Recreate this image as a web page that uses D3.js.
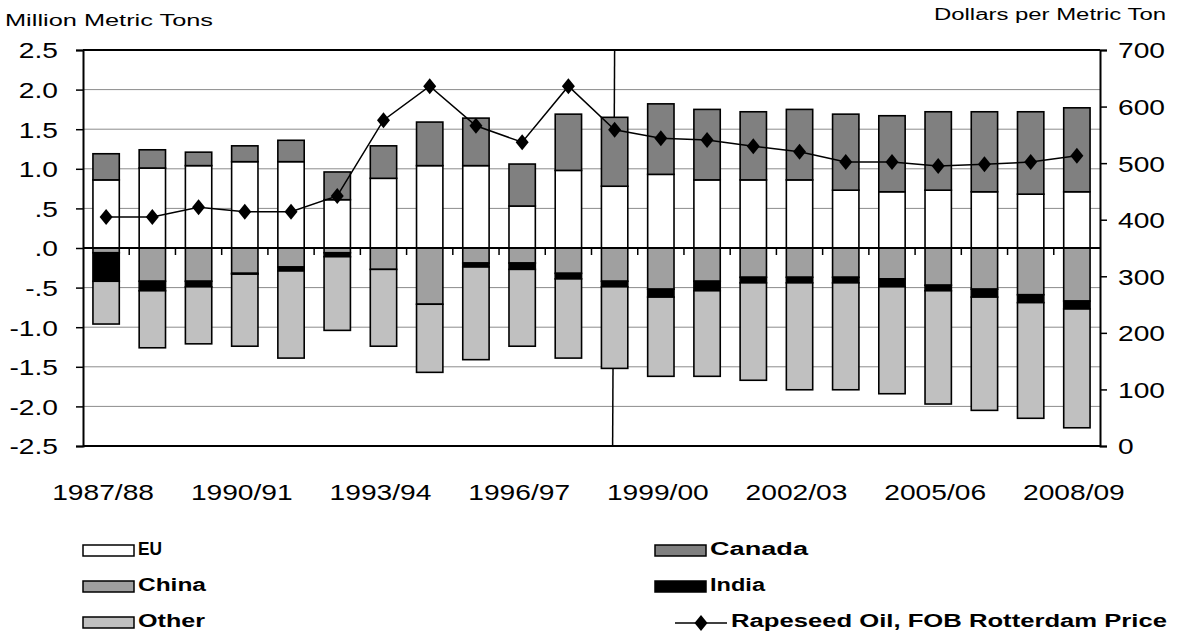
<!DOCTYPE html>
<html><head><meta charset="utf-8">
<script src="https://cdn.jsdelivr.net/npm/d3@7"></script>
<style>body{margin:0;background:#fff}svg{display:block}text{font-family:Arial,"Liberation Sans",sans-serif}</style>
</head><body>
<svg id="c" width="1179" height="633"></svg>
<script>
const years = ["1987/88","1988/89","1989/90","1990/91","1991/92","1992/93","1993/94","1994/95","1995/96","1996/97","1997/98","1998/99","1999/00","2000/01","2001/02","2002/03","2003/04","2004/05","2005/06","2006/07","2007/08","2008/09"];
const eu     = [0.86,1.01,1.04,1.09,1.09,0.61,0.88,1.04,1.04,0.53,0.98,0.78,0.93,0.86,0.86,0.86,0.73,0.71,0.73,0.71,0.68,0.71];
const canada = [0.33,0.23,0.17,0.20,0.27,0.35,0.41,0.55,0.60,0.53,0.71,0.87,0.89,0.89,0.86,0.89,0.96,0.96,0.99,1.01,1.04,1.06];
const china  = [-0.06,-0.42,-0.42,-0.32,-0.24,-0.06,-0.27,-0.71,-0.19,-0.19,-0.32,-0.42,-0.52,-0.42,-0.37,-0.37,-0.37,-0.39,-0.47,-0.52,-0.59,-0.67];
const india  = [-0.36,-0.12,-0.07,-0.01,-0.05,-0.05,0,0,-0.05,-0.08,-0.07,-0.07,-0.10,-0.12,-0.07,-0.07,-0.07,-0.10,-0.07,-0.10,-0.10,-0.10];
const other  = [-0.54,-0.72,-0.72,-0.91,-1.10,-0.93,-0.97,-0.86,-1.17,-0.97,-1.00,-1.03,-1.00,-1.08,-1.23,-1.35,-1.35,-1.35,-1.43,-1.43,-1.46,-1.50];
const price  = [405,405,422,414,414,442,576,636,566,537,636,559,544,541,530,520,502,502,495,498,502,513];
const leftTicks = [2.5,2.0,1.5,1.0,0.5,0,-0.5,-1.0,-1.5,-2.0,-2.5];
const leftTickLabels = ["2.5","2.0","1.5","1.0",".5",".0","-.5","-1.0","-1.5","-2.0","-2.5"];
const rightTicks = [0,100,200,300,400,500,600,700];
const xLabelYears = ["1987/88","1990/91","1993/94","1996/97","1999/00","2002/03","2005/06","2008/09"];
const markerYear = "1998/99";

const svg = d3.select("#c");
const L = 83, R = 1100, T = 50, B = 446;
const x = d3.scaleBand().domain(years).range([L, R]).paddingInner(0.43).paddingOuter(0.215);
const xb = d3.scaleBand().domain(years).range([L, R]);
const y = d3.scaleLinear().domain([-2.5, 2.5]).range([B, T]);
const y2 = d3.scaleLinear().domain([0, 700]).range([B, T]);

function stretch(sel, f) {
  sel.each(function () {
    const w = this.getComputedTextLength();
    d3.select(this).attr("textLength", w * f).attr("lengthAdjust", "spacingAndGlyphs");
  });
}

// gridlines
svg.append("g").selectAll("line").data(leftTicks.filter(d => d !== 0 && Math.abs(d) !== 2.5)).join("line")
  .attr("x1", L).attr("x2", R).attr("y1", d => y(d)).attr("y2", d => y(d))
  .attr("stroke", "#8c8c8c").attr("stroke-width", 1);

// divider line
const mx = xb(markerYear) + xb.bandwidth() / 2;
svg.append("line").attr("x1", mx).attr("x2", mx - 2).attr("y1", T).attr("y2", B).attr("stroke", "#000").attr("stroke-width", 1.5);

// stacked bars
const series = [
  {name: "EU", vals: eu, fill: "#ffffff", base: null},
  {name: "Canada", vals: canada, fill: "#808080", base: eu},
  {name: "China", vals: china, fill: "#a0a0a0", base: null},
  {name: "India", vals: india, fill: "#000000", base: china},
  {name: "Other", vals: other, fill: "#c0c0c0", base: china.map((c, i) => c + india[i])}
];
series.forEach(s => {
  const data = years.map((yr, i) => {
    const b = s.base ? s.base[i] : 0;
    return {yr, y0: b, y1: b + s.vals[i]};
  }).filter(d => d.y0 !== d.y1);
  svg.append("g").selectAll("rect").data(data).join("rect")
    .attr("x", d => x(d.yr)).attr("width", x.bandwidth())
    .attr("y", d => y(Math.max(d.y0, d.y1))).attr("height", d => Math.abs(y(d.y0) - y(d.y1)))
    .attr("fill", s.fill).attr("stroke", "#000").attr("stroke-width", 1.6);
});

// frame lines
svg.append("line").attr("x1", L).attr("x2", R).attr("y1", T).attr("y2", T).attr("stroke", "#000").attr("stroke-width", 2);
svg.append("line").attr("x1", L).attr("x2", R).attr("y1", B).attr("y2", B).attr("stroke", "#000").attr("stroke-width", 2);

// zero axis with ticks
const zeroG = svg.append("g");
zeroG.append("line").attr("x1", L).attr("x2", R).attr("y1", y(0)).attr("y2", y(0)).attr("stroke", "#000").attr("stroke-width", 2);
zeroG.selectAll("line.tk").data(years.slice(1)).join("line").attr("class", "tk")
  .attr("x1", d => xb(d)).attr("x2", d => xb(d)).attr("y1", y(0)).attr("y2", y(0) + 7)
  .attr("stroke", "#000").attr("stroke-width", 1.5);

// left axis
const ax = svg.append("g").attr("transform", `translate(${L},0)`)
  .call(d3.axisLeft(y).tickValues(leftTicks).tickSize(7).tickPadding(18).tickFormat((d, i) => leftTickLabels[i]));
ax.select(".domain").attr("stroke-width", 2);
ax.selectAll(".tick line").attr("stroke-width", 1.5);
ax.selectAll("text").attr("font-size", 22).attr("fill", "#000").attr("dy", "0.36em").call(stretch, 1.28);

// right axis
const ar = svg.append("g").attr("transform", `translate(${R},0)`)
  .call(d3.axisRight(y2).tickValues(rightTicks).tickSize(7).tickPadding(11));
ar.select(".domain").attr("stroke-width", 2);
ar.selectAll(".tick line").attr("stroke-width", 1.5);
ar.selectAll("text").attr("font-size", 22).attr("fill", "#000").attr("dy", "0.36em").call(stretch, 1.28);

// x labels
svg.append("g").selectAll("text").data(xLabelYears).join("text")
  .attr("x", d => xb(d) + xb.bandwidth() / 2 - 3).attr("y", 500).attr("text-anchor", "middle")
  .attr("font-size", 22).text(d => d).call(stretch, 1.28);

// price line
const diamond = "M0,-8L6.5,0L0,8L-6.5,0Z";
const line = d3.line().x((d, i) => xb(years[i]) + xb.bandwidth() / 2).y(d => y2(d));
svg.append("path").attr("d", line(price)).attr("fill", "none").attr("stroke", "#000").attr("stroke-width", 1.5);
svg.append("g").selectAll("path").data(price).join("path")
  .attr("transform", (d, i) => `translate(${xb(years[i]) + xb.bandwidth() / 2},${y2(d)})`)
  .attr("d", diamond).attr("fill", "#000");

// axis titles
svg.append("text").attr("x", 5).attr("y", 26).attr("font-size", 16).attr("textLength", 208).attr("lengthAdjust", "spacingAndGlyphs").text("Million Metric Tons");
svg.append("text").attr("x", 1166).attr("y", 20).attr("font-size", 16).attr("text-anchor", "end").attr("textLength", 232).attr("lengthAdjust", "spacingAndGlyphs").text("Dollars per Metric Ton");

// legend
const legend = [
  {name: "EU", fill: "#ffffff", x: 83, y: 545, len: 24},
  {name: "China", fill: "#a0a0a0", x: 83, y: 581, len: 68},
  {name: "Other", fill: "#c0c0c0", x: 83, y: 617, len: 67},
  {name: "Canada", fill: "#808080", x: 655, y: 545, len: 98},
  {name: "India", fill: "#000000", x: 655, y: 581, len: 55}
];
const lg = svg.append("g");
legend.forEach(l => {
  lg.append("rect").attr("x", l.x).attr("y", l.y).attr("width", 51).attr("height", 11)
    .attr("fill", l.fill).attr("stroke", "#000").attr("stroke-width", 1.5);
  lg.append("text").attr("x", l.x + 55).attr("y", l.y + 10).attr("font-size", 18).attr("font-weight", "bold")
    .attr("textLength", l.len).attr("lengthAdjust", "spacingAndGlyphs").text(l.name);
});
lg.append("line").attr("x1", 675).attr("x2", 727).attr("y1", 623).attr("y2", 623).attr("stroke", "#000").attr("stroke-width", 1.5);
lg.append("path").attr("transform", "translate(701,623)").attr("d", diamond).attr("fill", "#000");
lg.append("text").attr("x", 731).attr("y", 627).attr("font-size", 18).attr("font-weight", "bold")
  .attr("textLength", 436).attr("lengthAdjust", "spacingAndGlyphs").text("Rapeseed Oil, FOB Rotterdam Price");
</script>
</body></html>
